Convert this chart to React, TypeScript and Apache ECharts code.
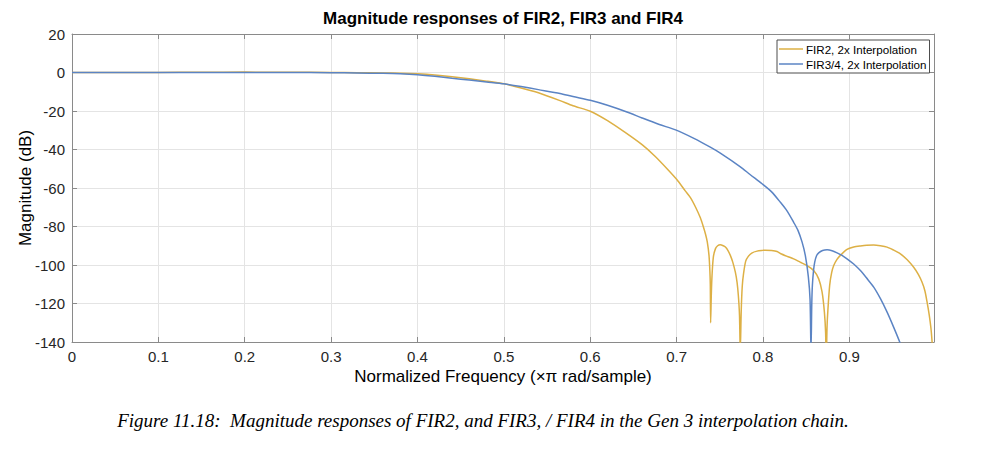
import React, { useEffect, useRef } from "react";
import * as echarts from "echarts";

// Normalized frequency (x pi rad/sample) and magnitude (dB) of FIR2, 2x interpolation
const fir2Freq = [
  0, 0.05, 0.1, 0.15, 0.2, 0.25, 0.3, 0.33, 0.36, 0.38, 0.4, 0.42, 0.44, 0.46, 0.48, 0.5,
  0.52, 0.54, 0.565, 0.58, 0.6, 0.62, 0.64, 0.66, 0.675, 0.69, 0.7, 0.71, 0.716, 0.722,
  0.7275, 0.7305, 0.7335, 0.7355, 0.7375, 0.7385, 0.739, 0.7394, 0.7402, 0.741, 0.7425,
  0.745, 0.7475, 0.7505, 0.754, 0.7565, 0.7595, 0.7622, 0.765, 0.768, 0.77, 0.7715, 0.7728,
  0.7737, 0.7748, 0.776, 0.7775, 0.78, 0.783, 0.787, 0.7931, 0.8, 0.8027, 0.81, 0.8163,
  0.8201, 0.828, 0.8355, 0.843, 0.851, 0.8587, 0.8645, 0.8684, 0.8711, 0.8725, 0.8732,
  0.8742, 0.875, 0.8772, 0.8795, 0.8819, 0.8855, 0.8896, 0.8973, 0.905, 0.9128, 0.92,
  0.9282, 0.936, 0.9437, 0.951, 0.9591, 0.967, 0.9745, 0.98, 0.9842, 0.9875, 0.99, 0.9925,
  0.9945, 0.9958, 0.997,
];
const fir2Db = [
  0, 0, 0.05, 0.15, 0.2, 0.15, 0, -0.1, -0.2, -0.35, -0.7, -1.3, -2.2, -3.3, -4.5, -5.9,
  -8.0, -10.5, -14.6, -17.3, -20.1, -25, -31, -37.5, -43.5, -50.5, -55.5, -61.5, -65, -70,
  -75.5, -79.5, -84, -88, -95, -103, -110, -130, -115, -105.5, -96,
  -91.5, -90, -89.5, -90, -90.7, -92.5, -95, -98.5, -103.7, -109, -116, -126,
  -145, -124, -111, -104.5, -98, -95.5, -93.8, -92.8, -92.4, -92.3, -92.5, -93,
  -94, -95.5, -96.8, -98.5, -100.3, -102.9, -107.2, -114, -124.5, -135, -150,
  -132, -124.5, -110.6, -104, -100.3, -97.2, -95, -91.9, -90.7, -90.1, -89.7,
  -89.6, -90, -90.7, -92.2, -94.2, -97.3, -101.2, -105, -109, -113.5, -119.3, -126,
  -133, -140, -148,
];

// Normalized frequency and magnitude (dB) of FIR3/4, 2x interpolation
const fir34Freq = [
  0, 0.05, 0.1, 0.15, 0.2, 0.25, 0.3, 0.33, 0.36, 0.38, 0.4, 0.42, 0.44, 0.46, 0.48, 0.5,
  0.52, 0.54, 0.565, 0.58, 0.6, 0.62, 0.6425, 0.66, 0.68, 0.6988, 0.72, 0.739, 0.7506,
  0.7738, 0.785, 0.7989, 0.81, 0.8201, 0.828, 0.8355, 0.8405, 0.8452, 0.849, 0.8525,
  0.8545, 0.8556, 0.8565, 0.8572, 0.8585, 0.8599, 0.862, 0.8645, 0.869, 0.8742, 0.88,
  0.8858, 0.8915, 0.8973, 0.905, 0.9128, 0.92, 0.9282, 0.936, 0.9437, 0.951, 0.9583, 0.962,
];
const fir34Db = [
  0, 0, 0, 0, 0.05, 0, -0.1, -0.25, -0.45, -0.7, -1.2, -2.0, -3.0, -3.9, -4.9, -5.9,
  -7.3, -8.9, -10.9, -12.5, -14.4, -17, -20.5, -23.6, -27, -29.8, -34.2, -38.8, -41.9,
  -49, -53, -57.8, -62, -67.4, -72, -77.8, -82, -88, -95, -106,
  -118, -145, -120, -110.6, -103, -98.5, -95.2, -93.7, -92.5, -92.1, -92.6,
  -93.7, -95, -96.8, -99.5, -102.9, -106.8, -111.5, -117.5, -124.5, -132, -140, -145,
];

const xTicks = { min: 0, max: 0.998, interval: 0.1 };
const yTicks = { min: -140, max: 20, interval: 20 };

const seriesNames = ["FIR2, 2x Interpolation", "FIR3/4, 2x Interpolation"];
const seriesColors = ["#DDB045", "#5B84C4"];

const titleText = "Magnitude responses of FIR2, FIR3 and FIR4";
const xName = "Normalized Frequency (\u00d7\u03c0 rad/sample)";
const yName = "Magnitude (dB)";
const captionText =
  "Figure 11.18:  Magnitude responses of FIR2, and FIR3, / FIR4 in the Gen 3 interpolation chain.";

const sansFont = "'Liberation Sans', Arial, Helvetica, sans-serif";
const frameColor = "#8a8a8a";
const gridColor = "#e4e4e4";
const labelColor = "#262626";

const zip = (xs: number[], ys: number[]) => xs.map((x, i) => [x, ys[i]]);

export default function App() {
  const ref = useRef<HTMLDivElement>(null);

  useEffect(() => {
    if (!ref.current) return;
    const chart = echarts.init(ref.current, undefined, { renderer: "svg" });

    const mainX = {
      type: "value" as const,
      ...xTicks,
      axisLine: { show: true, onZero: false, lineStyle: { color: frameColor, width: 1 } },
      axisTick: { show: true, inside: true, length: 5, lineStyle: { color: frameColor } },
      splitLine: { show: true, lineStyle: { color: gridColor, width: 1 } },
    };
    const mainY = {
      type: "value" as const,
      ...yTicks,
      axisLine: { show: true, onZero: false, lineStyle: { color: frameColor, width: 1 } },
      axisTick: { show: true, inside: true, length: 5, lineStyle: { color: frameColor } },
      splitLine: { show: true, lineStyle: { color: gridColor, width: 1 } },
    };

    const lineSeries = (i: number, xs: number[], ys: number[]) => ({
      name: seriesNames[i],
      type: "line",
      xAxisIndex: 0,
      yAxisIndex: 0,
      data: zip(xs, ys),
      symbol: "none",
      showSymbol: false,
      smooth: 0.25,
      clip: true,
      lineStyle: { color: seriesColors[i], width: 1.5 },
      itemStyle: { color: seriesColors[i] },
    });

    chart.setOption({
      animation: false,
      backgroundColor: "#ffffff",
      grid: { left: 72, right: 55, top: 34, bottom: 118, containLabel: false },
      legend: {
        orient: "vertical",
        left: 777,
        top: 40,
        icon: "rect",
        itemWidth: 24,
        itemHeight: 1.5,
        itemGap: 3,
        padding: [3, 3, 3, 2],
        borderColor: "#4d4d4d",
        borderWidth: 1,
        backgroundColor: "#ffffff",
        textStyle: { fontSize: 11.6, fontFamily: sansFont, color: "#000", padding: [0, 0, 0, -2] },
        data: seriesNames,
      },
      xAxis: [
        {
          ...mainX,
          position: "bottom",
          axisLabel: {
            show: true,
            showMaxLabel: false,
            fontSize: 15,
            fontFamily: sansFont,
            color: labelColor,
            margin: 7,
          },
          name: xName,
          nameLocation: "middle",
          nameGap: 26,
          nameMoveOverlap: false,
          nameTextStyle: { fontSize: 17, fontFamily: sansFont, color: "#000" },
        },
        {
          ...mainX,
          position: "top",
          axisLabel: { show: false },
          splitLine: { show: false },
        },
      ],
      yAxis: [
        {
          ...mainY,
          position: "left",
          axisLabel: {
            show: true,
            fontSize: 15,
            fontFamily: sansFont,
            color: labelColor,
            margin: 7,
          },
          name: yName,
          nameLocation: "middle",
          nameGap: 38,
          nameMoveOverlap: false,
          nameTextStyle: { fontSize: 17, fontFamily: sansFont, color: "#000" },
        },
        {
          ...mainY,
          position: "right",
          axisLabel: { show: false },
          splitLine: { show: false },
        },
      ],
      series: [lineSeries(0, fir2Freq, fir2Db), lineSeries(1, fir34Freq, fir34Db)],
      graphic: [
        {
          type: "text",
          x: 503,
          y: 18,
          style: {
            text: titleText,
            fontSize: 17,
            fontWeight: "bold",
            fontFamily: sansFont,
            fill: "#000",
            align: "center",
            verticalAlign: "middle",
          },
        },
        {
          type: "text",
          x: 483,
          y: 420,
          style: {
            text: captionText,
            fontSize: 19,
            fontStyle: "italic",
            fontFamily: "'Liberation Serif', 'Times New Roman', serif",
            fill: "#000",
            align: "center",
            verticalAlign: "middle",
          },
        },
      ],
    });

    return () => {
      chart.dispose();
    };
  }, []);

  return (
    <div
      ref={ref}
      style={{ position: "absolute", left: 0, top: 0, width: 989, height: 460 }}
    />
  );
}
